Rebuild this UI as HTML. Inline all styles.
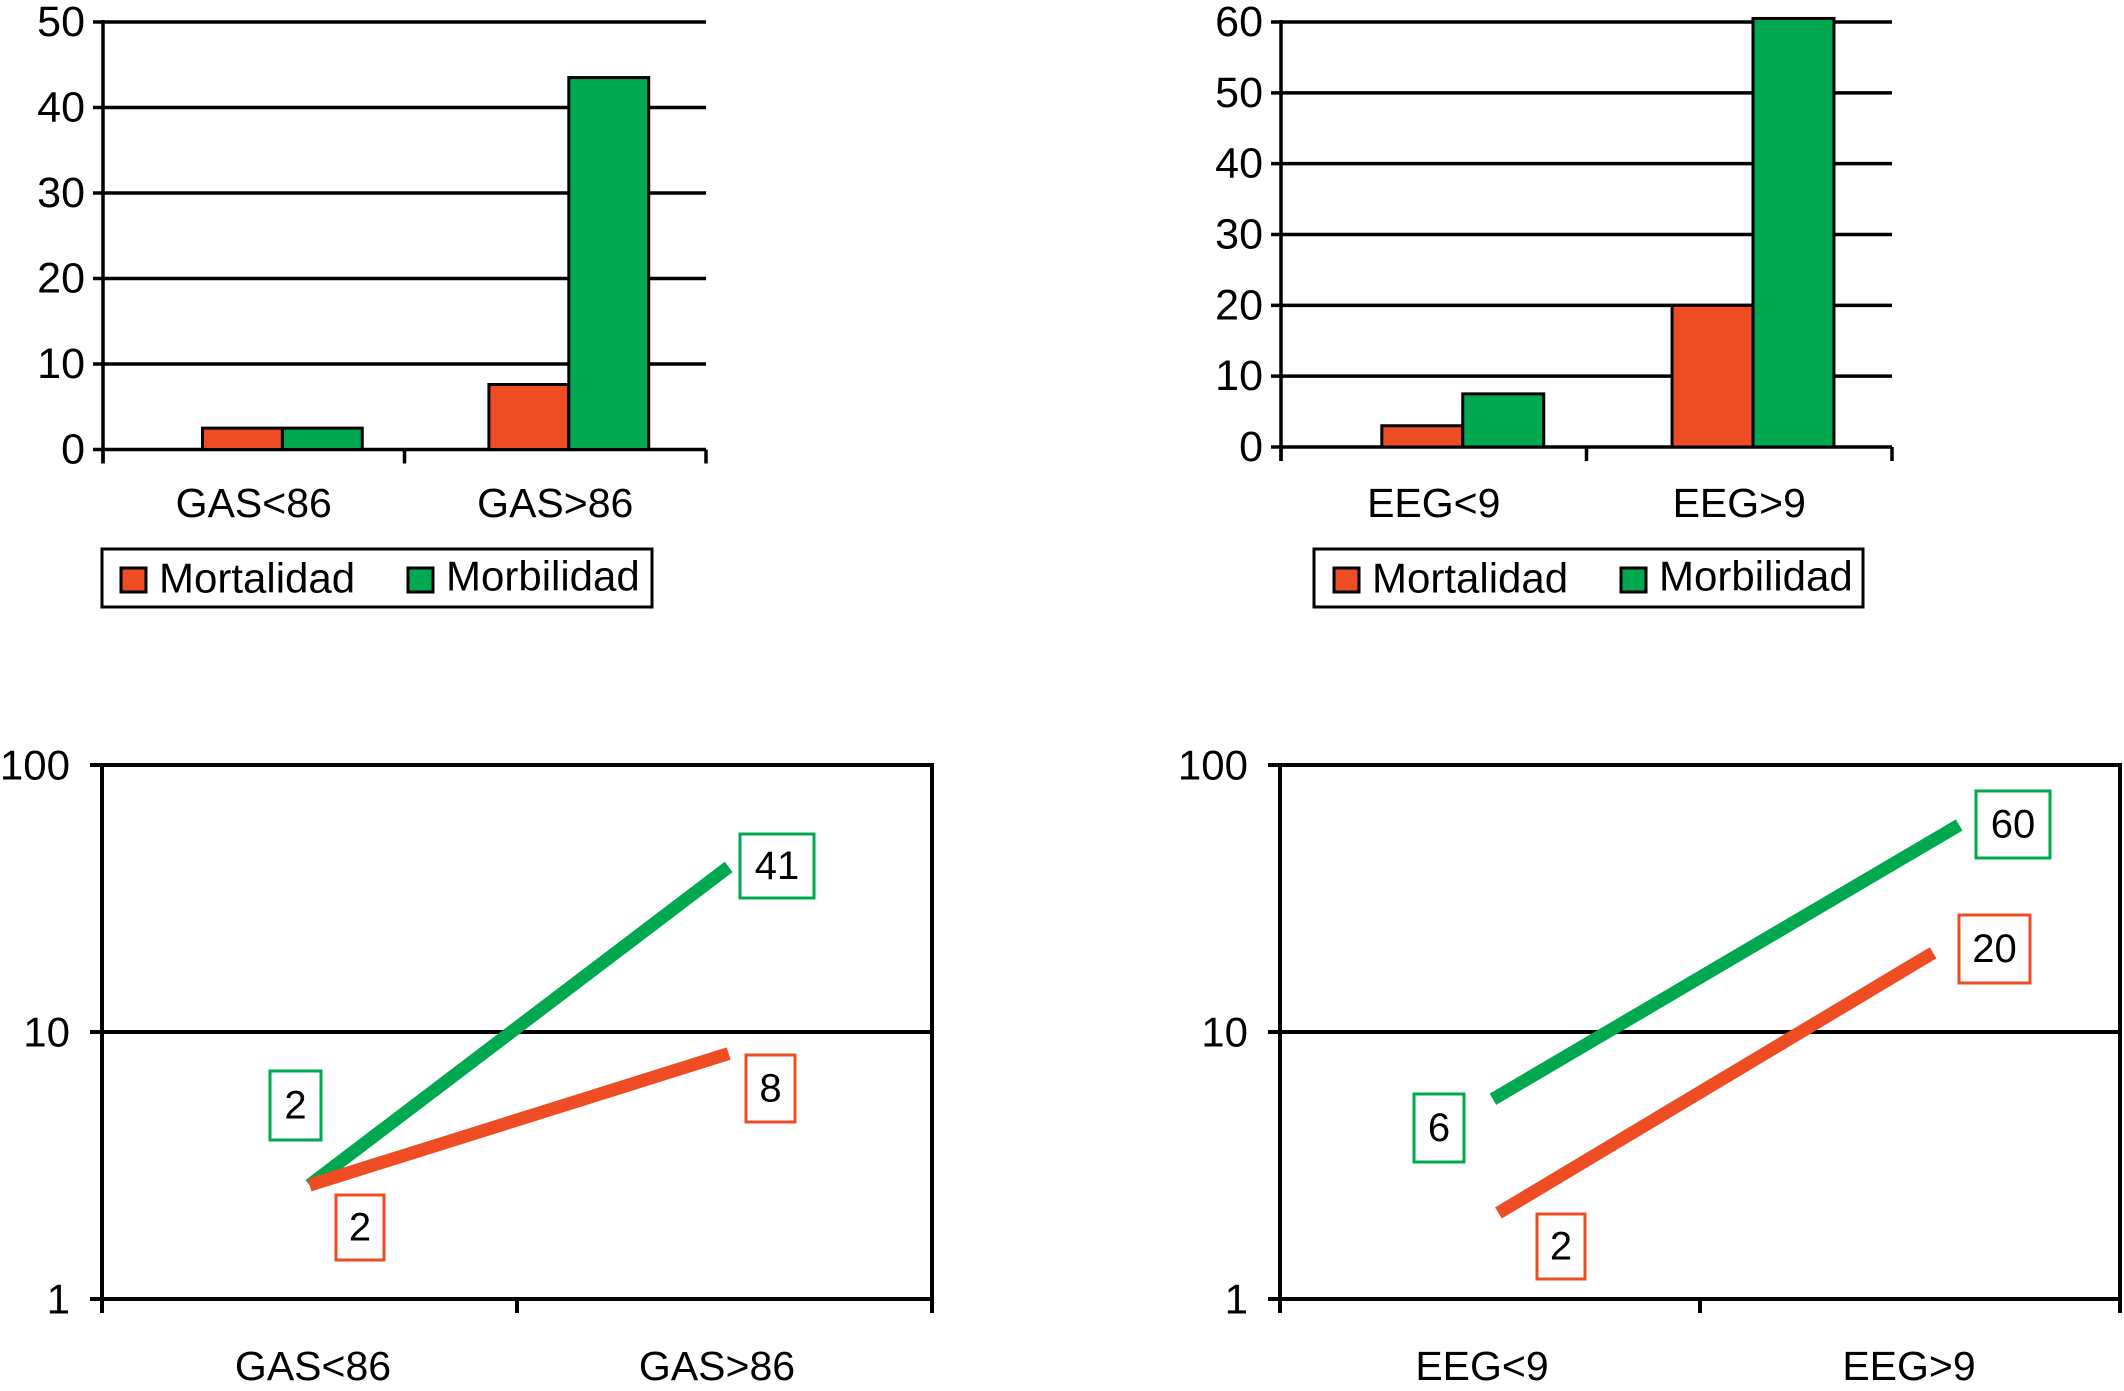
<!DOCTYPE html>
<html><head><meta charset="utf-8"><style>
html,body{margin:0;padding:0;background:#fff;}
svg{display:block;font-family:"Liberation Sans",sans-serif;}
</style></head><body>
<svg id="s" width="2124" height="1391" viewBox="0 0 2124 1391"></svg>
<script>
const NS='http://www.w3.org/2000/svg';
const RED='#ee4d24', GREEN='#00a94f';
// Top-left bar chart data
const catsGAS=['GAS<86','GAS>86'];
const gasMort=[2.5,7.6];
const gasMorb=[2.5,43.5];
const ticksGAS=[0,10,20,30,40,50];
// Top-right bar chart data
const catsEEG=['EEG<9','EEG>9'];
const eegMort=[3,20];
const eegMorb=[7.5,60.5];
const ticksEEG=[0,10,20,30,40,50,60];
// Bottom log charts data
const logTicks=[1,10,100];
const gasLogMort=[2.67,8.3];
const gasLogMorb=[2.67,41.5];
const gasLogX=[0.5,1.51];
const gasLabMort=['2','8'];
const gasLabMorb=['2','41'];
const eegLogMort=[2.1,19.8];
const eegLogMorb=[5.6,59.6];
const eegLogXMort=[0.52,1.555];
const eegLogXMorb=[0.507,1.617];
const eegLabMort=['2','20'];
const eegLabMorb=['6','60'];

const svg=document.getElementById('s');
function el(tag,attrs,parent){const e=document.createElementNS(NS,tag);for(const k in attrs)e.setAttribute(k,attrs[k]);(parent||svg).appendChild(e);return e;}
function txt(x,y,s,size,anchor,parent){const t=el('text',{x:x,y:y,'font-size':size,'text-anchor':anchor||'middle','dominant-baseline':'central',fill:'#000'},parent);t.textContent=s;return t;}

function barChart(name,x0,x1,y0,y1,ticks,max,cats,mort,morb,legend){
  const g=el('g',{});
  
  
  const ys=v=>y0-(v/max)*(y0-y1);
  const band=(x1-x0)/cats.length;
  ticks.forEach(t=>{
    const l=el('line',{x1:x0-10,x2:x1,y1:ys(t),y2:ys(t),stroke:'#000','stroke-width':3.5},g);
    
    
    const lb=txt(x0-18,ys(t),String(t),43,'end',g);
    
    
  });
  el('line',{x1:x0,x2:x0,y1:y1-2,y2:y0+14,stroke:'#000','stroke-width':3.5},g);
  for(let i=0;i<=cats.length;i++){el('line',{x1:x0+i*band,x2:x0+i*band,y1:y0,y2:y0+14,stroke:'#000','stroke-width':3.5},g);}
  const bw=band*0.265;
  const offs=[0.095,0.045];
  cats.forEach((c,i)=>{
    const cx=x0+band*(i+0.5)+band*offs[i];
    const r=el('rect',{x:cx-bw,y:ys(mort[i]),width:bw,height:y0-ys(mort[i]),fill:RED,stroke:'#000','stroke-width':3},g);
    
    
    const r2=el('rect',{x:cx,y:ys(morb[i]),width:bw,height:y0-ys(morb[i]),fill:GREEN,stroke:'#000','stroke-width':3},g);
    
    
    const cl=txt(x0+band*(i+0.5),503,c,41,'middle',g);
    
    
  });
  const lg=el('g',{},g);
  
  
  el('rect',{x:legend[0],y:549,width:legend[1]-legend[0],height:58,fill:'#fff',stroke:'#000','stroke-width':3},lg);
  el('rect',{x:legend[2],y:568,width:25,height:24,fill:RED,stroke:'#000','stroke-width':3},lg);
  const t1=txt(legend[2]+38,578,'Mortalidad',42,'start',lg);
  
  
  el('rect',{x:legend[3],y:568,width:25,height:24,fill:GREEN,stroke:'#000','stroke-width':3},lg);
  const t2=txt(legend[3]+38,576,'Morbilidad',42,'start',lg);
  
  
}

function logChart(name,x0,x1,cats,xm,xg,mort,morb,labM,labG,boxesM,boxesG,labelX){
  const g=el('g',{});
  
  
  const y0=1299,y1=765;
  const ys=v=>y0-Math.log10(v)/2*(y0-y1);
  const band=(x1-x0)/cats.length;
  const xs=c=>x0+c*band;
  el('rect',{x:x0,y:y1,width:x1-x0,height:y0-y1,fill:'none',stroke:'#000','stroke-width':4},g);
  logTicks.forEach(t=>{
    const l=el('line',{x1:x0-12,x2:x1,y1:ys(t),y2:ys(t),stroke:'#000','stroke-width':4},g);
    
    
    const lb=txt(x0-32,ys(t),String(t),42,'end',g);
    
    
  });
  for(let i=0;i<=cats.length;i++){el('line',{x1:xs(i),x2:xs(i),y1:y0,y2:y0+14,stroke:'#000','stroke-width':4},g);}
  cats.forEach((c,i)=>{
    const cl=txt(labelX[i],1366,c,41,'middle',g);
    
    
  });
  const lg=el('line',{x1:xs(xg[0]),y1:ys(morb[0]),x2:xs(xg[1]),y2:ys(morb[1]),stroke:GREEN,'stroke-width':13},g);
  
  
  const lm=el('line',{x1:xs(xm[0]),y1:ys(mort[0]),x2:xs(xm[1]),y2:ys(mort[1]),stroke:RED,'stroke-width':13},g);
  
  
  function box(b,s,col,nm){
    const r=el('rect',{x:b[0],y:b[1],width:b[2]-b[0],height:b[3]-b[1],fill:'#fff',stroke:col,'stroke-width':3},g);
    
    
    const t=txt((b[0]+b[2])/2,(b[1]+b[3])/2,s,40,'middle',g);
    
    
  }
  box(boxesM[0],labM[0],RED,'label-mortalidad-1');
  box(boxesM[1],labM[1],RED,'label-mortalidad-2');
  box(boxesG[0],labG[0],GREEN,'label-morbilidad-1');
  box(boxesG[1],labG[1],GREEN,'label-morbilidad-2');
}

barChart('bar-chart-gas',103,706,449.5,22,ticksGAS,50,catsGAS,gasMort,gasMorb,[102,652,121,408]);
barChart('bar-chart-eeg',1281,1892,447,22,ticksEEG,60,catsEEG,eegMort,eegMorb,[1314,1863,1334,1621]);
logChart('log-chart-gas',102,932,catsGAS,gasLogX,gasLogX,gasLogMort,gasLogMorb,gasLabMort,gasLabMorb,
  [[336,1195,384,1260],[746,1055,795,1122]],[[270,1071,321,1140],[740,834,814,898]],[313,717]);
logChart('log-chart-eeg',1280,2120,catsEEG,eegLogXMort,eegLogXMorb,eegLogMort,eegLogMorb,eegLabMort,eegLabMorb,
  [[1537,1214,1585,1279],[1959,915,2030,983]],[[1414,1094,1464,1162],[1976,791,2050,858]],[1482,1909]);
</script>
</body></html>
